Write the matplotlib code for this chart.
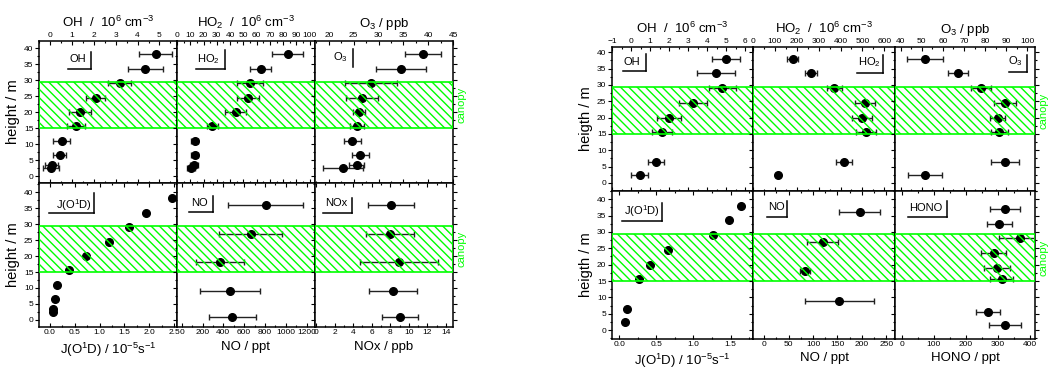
import matplotlib
matplotlib.use('Agg')
import matplotlib.pyplot as plt
from matplotlib.ticker import AutoMinorLocator, FormatStrFormatter
import matplotlib.transforms as mtransforms

plt.rcParams['font.family'] = 'Liberation Sans'
plt.rcParams['mathtext.fontset'] = 'custom'
plt.rcParams['mathtext.rm'] = 'Liberation Sans'
plt.rcParams['mathtext.it'] = 'Liberation Sans:italic'
plt.rcParams['mathtext.default'] = 'rm'
plt.rcParams['hatch.linewidth'] = 1.0

W, H = 1048, 371
GREEN = '#00ff00'
CANOPY = (14.9, 29.4)

# ---- site A (left block) ----
z_a = [38, 33.5, 29, 24.5, 20, 15.5, 11, 6.5, 3.5, 2.5]
oh_a = [4.82, 4.36, 3.18, 2.08, 1.36, 1.18, 0.53, 0.45, 0.08, 0.05]
oh_a_err = [0.77, 0.80, 0.53, 0.45, 0.50, 0.40, 0.40, 0.30, 0.30, 0.36]
ho2_a = [83.3, 63.0, 55.0, 53.7, 44.3, 26.7, 13.2, 13.2, 13.0, 10.5]
ho2_a_err = [12.0, 7.8, 9.6, 8.4, 8.0, 4.3, 3.0, 3.0, 3.0, 3.3]
o3_a = [39.0, 34.5, 28.5, 26.6, 26.1, 25.7, 24.7, 26.3, 25.6, 22.8]
o3_a_err = [3.6, 5.0, 5.3, 3.2, 1.25, 1.45, 1.7, 1.7, 1.5, 4.0]
j_a = [2.45, 1.94, 1.60, 1.20, 0.72, 0.38, 0.15, 0.10, 0.07, 0.07]

z_nox_a = [36, 27, 18, 9, 1]
no_a = [806, 662, 368, 464, 486]
no_a_err = [360, 303, 232, 285, 225]
nox_a = [8.07, 7.97, 8.93, 8.32, 9.04]
nox_a_err = [2.47, 2.6, 4.2, 2.6, 1.9]

# ---- site B (right block) ----
z_b = [38, 33.5, 29, 24.5, 20, 15.5, 6.5, 2.5]
oh_b = [5.0, 4.44, 4.79, 3.25, 1.99, 1.64, 1.29, 0.45]
oh_b_err = [0.73, 1.0, 0.72, 0.73, 0.63, 0.52, 0.42, 0.44]
ho2_b = [182, 264, 372, 512, 497, 516, 416, 112]
ho2_b_err = [25, 28, 33, 45, 45, 47, 38, 5]
o3_b = [51.5, 67.3, 77.9, 89.4, 86.0, 86.7, 89.4, 51.5]
o3_b_err = [8.4, 4.7, 4.7, 5.1, 3.6, 4.1, 6.5, 8.0]
j_b = [1.64, 1.48, 1.26, 0.66, 0.42, 0.27, 0.11, 0.08]

z_no_b = [36, 27, 18, 9]
no_b = [196, 120, 84, 154]
no_b_err = [42, 32, 10, 71]

z_hono_b = [37, 32.5, 28, 23.5, 19, 15.5, 5.5, 1.5]
hono_b = [322, 303, 368, 286, 297, 311, 268, 322]
hono_b_err = [47, 39, 64, 38, 40, 37, 38, 50]


def px_rect(x0, x1, ytop, ybot):
    return [x0 / W, 1 - ybot / H, (x1 - x0) / W, (ybot - ytop) / H]


def tag(ax, label, tx, ty, hline, vline):
    """Small boxed label: text with a line below and on the right."""
    ax.text(tx, ty, label, transform=ax.transAxes, fontsize=8,
            ha='center', va='center', zorder=7)
    if hline is not None:
        ax.plot(hline[:2], [hline[2]] * 2, color='k', lw=1.1,
                transform=ax.transAxes, zorder=7, clip_on=False)
    ax.plot([vline[0]] * 2, vline[1:], color='k', lw=1.1,
            transform=ax.transAxes, zorder=7, clip_on=False)


def panel(fig, rect, x, xerr, z, xlim, ylim, xticks, xlabel, top, ylabel=None,
          fmt=None, canopy=False, xlabelpad=3.5):
    ax = fig.add_axes(rect)
    ax.axhspan(CANOPY[0], CANOPY[1], facecolor='none', edgecolor=GREEN,
               hatch='\\\\\\\\', lw=1.2, zorder=5)
    ax.errorbar(x, z, xerr=xerr, fmt='o', color='k', ecolor='#222222',
                ms=5.5, elinewidth=1, capsize=2, capthick=1, zorder=3)
    ax.set_xlim(*xlim)
    ax.set_ylim(*ylim)
    ax.set_xticks(xticks)
    ax.set_yticks(range(0, 41, 5))
    ax.xaxis.set_minor_locator(AutoMinorLocator(2))
    ax.yaxis.set_minor_locator(AutoMinorLocator(2))
    if fmt:
        ax.xaxis.set_major_formatter(FormatStrFormatter(fmt))
    ax.tick_params(axis='x', which='both', direction='in', top=True,
                   bottom=True, labelsize=6, pad=1.5,
                   labeltop=top, labelbottom=not top, width=0.8)
    ax.tick_params(axis='y', which='both', direction='out', left=True,
                   right=True, labelsize=6, pad=1,
                   labelleft=ylabel is not None, width=0.8)
    ax.tick_params(which='major', length=3)
    ax.tick_params(which='minor', length=1.5)
    if top:
        ax.xaxis.set_label_position('top')
    ax.set_xlabel(xlabel, fontsize=9.5, labelpad=xlabelpad)
    if ylabel:
        ax.set_ylabel(ylabel, fontsize=10.5, labelpad=3)
    for sp in ax.spines.values():
        sp.set_linewidth(1.1)
    if canopy:
        trans = mtransforms.blended_transform_factory(ax.transAxes, ax.transData)
        ax.text(1.063, sum(CANOPY) / 2, 'canopy', transform=trans, color=GREEN,
                rotation=90, ha='center', va='center', fontsize=8)
    return ax


fig = plt.figure(figsize=(W / 100, H / 100), dpi=100)

# left block
xa = [39, 177, 315, 453]
ya = [41, 182.5, 327]
ylim_at, ylim_ab = (-2.0, 42.2), (-2.2, 43.0)
conc = r'  /  10$^6$ cm$^{-3}$'

ax = panel(fig, px_rect(xa[0], xa[1], ya[0], ya[1]), oh_a, oh_a_err, z_a,
           (-0.5, 5.8), ylim_at, range(0, 6), 'OH' + conc, True, 'height / m')
tag(ax, 'OH', 0.28, 0.873, (0.21, 0.377, 0.80), (0.377, 0.80, 0.92))
ax = panel(fig, px_rect(xa[1], xa[2], ya[0], ya[1]), ho2_a, ho2_a_err, z_a,
           (0, 104), ylim_at, range(0, 101, 10), r'HO$_2$' + conc, True)
tag(ax, r'HO$_2$', 0.227, 0.873, (0.138, 0.348, 0.80), (0.348, 0.80, 0.934))
ax = panel(fig, px_rect(xa[2], xa[3], ya[0], ya[1]), o3_a, o3_a_err, z_a,
           (17.2, 45), ylim_at, range(20, 46, 5), r'O$_3$ / ppb', True,
           canopy=True)
tag(ax, r'O$_3$', 0.186, 0.885, None, (0.272, 0.815, 0.94))

ax = panel(fig, px_rect(xa[0], xa[1], ya[1], ya[2]), j_a, None, z_a,
           (-0.22, 2.56), ylim_ab, [0, 0.5, 1.0, 1.5, 2.0, 2.5],
           r'J(O$^1$D) / 10$^{-5}$s$^{-1}$', False, 'height / m', fmt='%.1f')
tag(ax, r'J(O$^1$D)', 0.249, 0.844, (0.075, 0.40, 0.79), (0.40, 0.79, 0.924))
ax = panel(fig, px_rect(xa[1], xa[2], ya[1], ya[2]), no_a, no_a_err, z_nox_a,
           (-45, 1280), ylim_ab, range(0, 1201, 200), 'NO / ppt', False)
tag(ax, 'NO', 0.162, 0.86, (0.09, 0.259, 0.794), (0.259, 0.794, 0.91))
ax = panel(fig, px_rect(xa[2], xa[3], ya[1], ya[2]), nox_a, nox_a_err, z_nox_a,
           (-0.1, 14.75), ylim_ab, range(0, 15, 2), 'NOx / ppb', False,
           canopy=True)
tag(ax, 'NOx', 0.157, 0.856, (0.06, 0.266, 0.79), (0.266, 0.79, 0.89))

# right block
xb = [612, 753, 895, 1035]
yb = [47, 191, 339]
ylim_bt, ylim_bb = (-2.5, 41.6), (-2.7, 42.5)

ax = panel(fig, px_rect(xb[0], xb[1], yb[0], yb[1]), oh_b, oh_b_err, z_b,
           (-1, 6.4), ylim_bt, range(-1, 7), 'OH' + conc, True, 'heigth / m')
tag(ax, 'OH', 0.14, 0.894, (0.076, 0.239, 0.835), (0.239, 0.835, 0.949))
ax = panel(fig, px_rect(xb[1], xb[2], yb[0], yb[1]), ho2_b, ho2_b_err, z_b,
           (0, 649), ylim_bt, range(0, 601, 100), r'HO$_2$' + conc, True)
tag(ax, r'HO$_2$', 0.817, 0.898, (0.735, 0.914, 0.822), (0.914, 0.822, 0.944))
ax = panel(fig, px_rect(xb[2], xb[3], yb[0], yb[1]), o3_b, o3_b_err, z_b,
           (37.3, 103.6), ylim_bt, range(40, 101, 10), r'O$_3$ / ppb', True,
           canopy=True)
tag(ax, r'O$_3$', 0.862, 0.903, (0.816, 0.94, 0.824), (0.94, 0.824, 0.944))

ax = panel(fig, px_rect(xb[0], xb[1], yb[1], yb[2]), j_b, None, z_b,
           (-0.095, 1.8), ylim_bb, [0, 0.5, 1.0, 1.5],
           r'J(O$^1$D) / 10$^{-5}$s$^{-1}$', False, 'heigth / m', fmt='%.1f',
           xlabelpad=2.5)
tag(ax, r'J(O$^1$D)', 0.21, 0.867, (0.069, 0.352, 0.80), (0.352, 0.80, 0.92))
ax = panel(fig, px_rect(xb[1], xb[2], yb[1], yb[2]), no_b, no_b_err, z_no_b,
           (-23, 268), ylim_bb, range(0, 251, 50), 'NO / ppt', False,
           xlabelpad=2.5)
tag(ax, 'NO', 0.162, 0.89, (0.10, 0.24, 0.822), (0.24, 0.822, 0.934))
ax = panel(fig, px_rect(xb[2], xb[3], yb[1], yb[2]), hono_b, hono_b_err,
           z_hono_b, (-21, 415), ylim_bb, range(0, 401, 100), 'HONO / ppt',
           False, canopy=True, xlabelpad=2.5)
tag(ax, 'HONO', 0.221, 0.883, (0.096, 0.374, 0.826), (0.374, 0.826, 0.932))

fig.savefig('out.png', dpi=100)
